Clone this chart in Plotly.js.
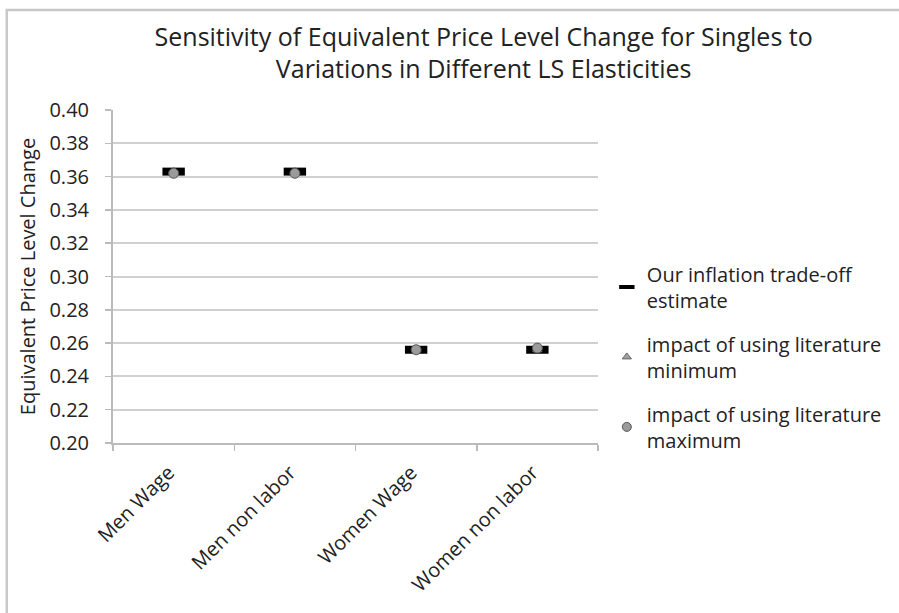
<!DOCTYPE html>
<html>
<head>
<meta charset="utf-8">
<script src="https://cdn.plot.ly/plotly-3.0.1.min.js"></script>
<style>html,body{margin:0;padding:0;background:#fff;}#chart{width:899px;height:613px;}</style>
</head>
<body>
<div id="chart"></div>
<script>
var categories = ["Men Wage", "Men non labor", "Women Wage", "Women non labor"];
var estimate = [0.363, 0.363, 0.256, 0.256];
var litMinimum = [0.363, 0.363, 0.256, 0.256];
var litMaximum = [0.362, 0.362, 0.256, 0.257];
var seriesNames = ["Our inflation trade-off<br>estimate", "impact of using literature<br>minimum", "impact of using literature<br>maximum"];
var yTicks = [0.20, 0.22, 0.24, 0.26, 0.28, 0.30, 0.32, 0.34, 0.36, 0.38, 0.40];

var FONT = "'Open Sans', 'Noto Sans', sans-serif";

var traces = [
  {x: categories, y: estimate, type: "scatter", mode: "markers", showlegend: false, hoverinfo: "skip",
   marker: {symbol: "line-ew", size: 16, color: "#000", line: {color: "#000", width: 8}}},
  {x: categories, y: litMinimum, type: "scatter", mode: "markers", showlegend: false, hoverinfo: "skip",
   marker: {symbol: "triangle-up", size: 8, color: "#a0a0a0", line: {color: "#666", width: 1}}},
  {x: categories, y: litMaximum, type: "scatter", mode: "markers", showlegend: false, hoverinfo: "skip",
   marker: {symbol: "circle", size: 10, color: "#9a9a9a", line: {color: "#555", width: 1}}},
  {x: [categories[0]], y: [null], type: "scatter", mode: "markers", name: seriesNames[0], legendgroup: "a",
   marker: {symbol: "line-ew", size: 11, color: "#000", line: {color: "#000", width: 4}}},
  {x: [categories[0]], y: [null], type: "scatter", mode: "markers", name: seriesNames[1], legendgroup: "b",
   marker: {symbol: "triangle-up", size: 8, color: "#a0a0a0", line: {color: "#666", width: 1}}},
  {x: [categories[0]], y: [null], type: "scatter", mode: "markers", name: seriesNames[2], legendgroup: "c",
   marker: {symbol: "circle", size: 9, color: "#9a9a9a", line: {color: "#555", width: 1}}}
];

var layout = {
  width: 899, height: 613,
  paper_bgcolor: "#fff", plot_bgcolor: "#fff",
  margin: {l: 113, r: 301, t: 110, b: 170, autoexpand: false},
  font: {family: FONT, color: "#222", size: 20},
  title: {
    text: "Sensitivity of Equivalent Price Level Change for Singles to<br>Variations in Different LS Elasticities",
    font: {family: FONT, size: 25, color: "#222"},
    x: 0.538, xanchor: "center", xref: "container",
    y: 0.925, yanchor: "top", yref: "container"
  },
  xaxis: {
    type: "category",
    range: [-0.5, 3.5],
    tickangle: -45,
    tickson: "boundaries",
    ticks: "outside", ticklen: 6, tickcolor: "#bbb", tickwidth: 1.5,
    ticklabelstandoff: 8,
    ticklabelshift: -5,
    showline: true, linecolor: "#bbb", linewidth: 2,
    showgrid: false, zeroline: false,
    automargin: false,
    tickfont: {family: FONT, size: 20, color: "#222"}
  },
  yaxis: {
    range: [0.20, 0.40],
    tickvals: yTicks,
    ticktext: yTicks.map(function(v){ return v.toFixed(2); }),
    ticks: "outside", ticklen: 6, tickcolor: "#bbb", tickwidth: 1.5,
    ticklabelstandoff: 12,
    showline: true, linecolor: "#bbb", linewidth: 2,
    showgrid: true, gridcolor: "#d0d0d0", gridwidth: 2,
    zeroline: false,
    automargin: false,
    tickfont: {family: FONT, size: 20, color: "#222"},
    title: {text: "Equivalent Price Level Change", font: {family: FONT, size: 20, color: "#222"}, standoff: 8}
  },
  legend: {
    x: 0.675, xanchor: "left", xref: "container",
    y: 0.585, yanchor: "top", yref: "container",
    font: {family: FONT, size: 20, color: "#222"},
    itemwidth: 30,
    traceorder: "grouped",
    bgcolor: "rgba(0,0,0,0)",
    tracegroupgap: 15
  },
  shapes: [
    {type: "rect", xref: "paper", yref: "paper", x0: -0.219, x1: 3, y0: -1, y1: 1.3,
     line: {color: "#c8c8c8", width: 2.5}, fillcolor: "rgba(0,0,0,0)", layer: "below"}
  ]
};

Plotly.newPlot("chart", traces, layout, {staticPlot: true, displayModeBar: false});
</script>
</body>
</html>
